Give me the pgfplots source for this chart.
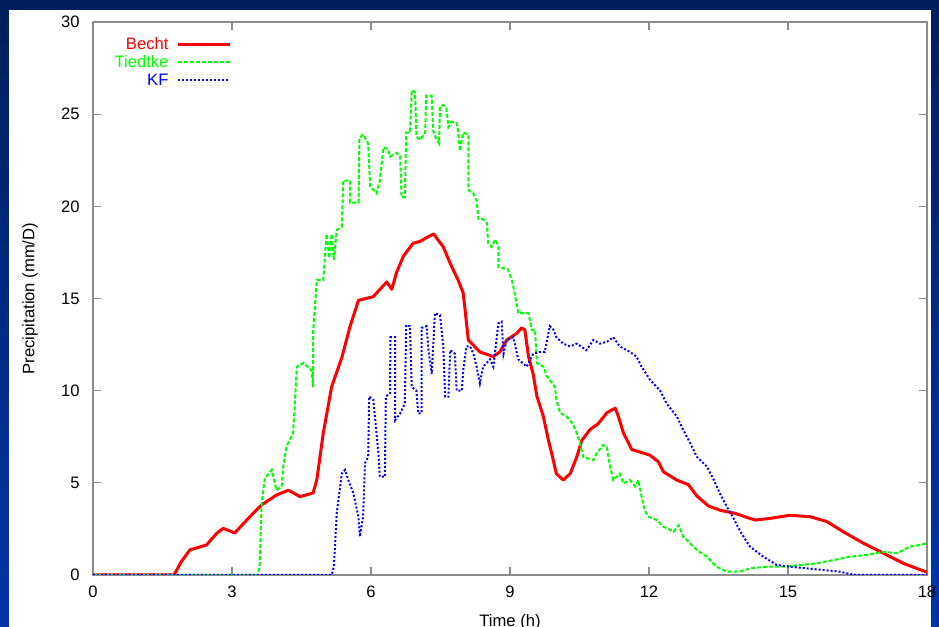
\documentclass[border=0pt]{standalone}
\usepackage{fontspec}
\setmainfont{Liberation Sans}
\usepackage{pgfplots}
\pgfplotsset{compat=1.18}
\definecolor{frametop}{HTML}{001F5C}
\definecolor{framebot}{HTML}{0035AA}
\definecolor{axgray}{HTML}{8C8C8C}
\definecolor{mygreen}{HTML}{00FF00}
\definecolor{myred}{HTML}{FF0000}
\definecolor{myblue}{HTML}{0000FF}

\begin{document}
\begin{tikzpicture}
\useasboundingbox (0,0) rectangle (469.5pt,313.5pt);
\shade[top color=frametop, bottom color=framebot] (0,0) rectangle (469.5pt,313.5pt);
\fill[white] (4.5pt,0) rectangle (465.5pt,308.5pt);
\begin{axis}[
 at={(46.5pt,26pt)}, anchor=south west,
 scale only axis, width=417pt, height=276.5pt,
 xmin=0, xmax=18, ymin=0, ymax=30,
 xtick={0,3,...,18}, ytick={0,5,...,30},
 tick align=inside, major tick length=4pt,
 axis line style={axgray, line width=1pt},
 every tick/.style={axgray, line width=0.6pt},
 tick label style={font=\fontsize{8.3pt}{10pt}\selectfont, inner sep=0pt},
 /pgf/number format/assume math mode=true,
 xticklabel style={yshift=-5.5pt},
 yticklabel style={xshift=-6.5pt},
 xlabel={Time (h)}, ylabel={Precipitation (mm/D)},
 label style={font=\fontsize{8.3pt}{10pt}\selectfont},
 xlabel style={at={(axis description cs:0.5,-0.085)}, anchor=center},
 ylabel style={at={(axis description cs:-0.0755,0.5)}, anchor=center},
 legend style={at={(axis description cs:0.1667,0.977)}, anchor=north east, draw=none, fill=none, inner sep=0pt,
   font=\fontsize{8.3pt}{10pt}\selectfont, nodes={text height=6.2pt, text depth=0.5pt, inner sep=1.1pt}, column sep=3pt},
 legend plot pos=right, legend cell align=right,
 legend image code/.code={\draw[#1] (0pt,0pt) -- (26pt,0pt);},
 no markers,
]
\addplot[myred, line width=1.5pt, line join=round] coordinates {
(0,0)(1.75,0)(1.9,0.7)(2.09,1.36)(2.45,1.63)(2.67,2.26)(2.81,2.53)(3.06,2.28)(3.25,2.8)(3.46,3.35)(3.64,3.8)(3.96,4.34)(4.22,4.6)(4.47,4.25)(4.75,4.45)(4.83,5.15)(4.97,7.7)(5.15,10.2)(5.37,11.8)(5.55,13.5)(5.73,14.9)(6.05,15.1)(6.34,15.9)(6.45,15.5)(6.55,16.4)(6.70,17.3)(6.91,18.0)(7.06,18.1)(7.2,18.3)(7.35,18.5)(7.56,17.8)(7.71,16.9)(7.88,16.0)(7.99,15.3)(8.03,14.4)(8.1,12.75)(8.35,12.1)(8.64,11.85)(8.78,12.1)(8.93,12.75)(9.14,13.1)(9.25,13.4)(9.32,13.3)(9.4,11.85)(9.5,10.9)(9.58,9.7)(9.72,8.6)(9.83,7.3)(9.9,6.6)(10.0,5.5)(10.15,5.15)(10.3,5.5)(10.44,6.4)(10.55,7.3)(10.73,7.9)(10.9,8.2)(11.09,8.8)(11.27,9.05)(11.34,8.6)(11.45,7.7)(11.63,6.8)(11.77,6.7)(12.02,6.5)(12.2,6.15)(12.31,5.6)(12.6,5.15)(12.85,4.9)(13.03,4.3)(13.28,3.75)(13.55,3.5)(13.85,3.35)(14.14,3.1)(14.3,2.98)(14.61,3.07)(15.04,3.24)(15.48,3.16)(15.84,2.9)(16.19,2.35)(16.63,1.72)(17.06,1.18)(17.49,0.63)(18,0.15)
};
\addlegendentry{\textcolor{myred}{Becht}}
\addplot[mygreen, line width=1pt, dash pattern=on 2pt off 1pt] coordinates {
(0,0)(3.56,0)(3.6,0.65)(3.64,3.9)(3.71,5.25)(3.86,5.7)(3.96,4.6)(4.07,4.8)(4.11,5.97)(4.18,7.0)(4.32,7.7)(4.4,11.3)(4.54,11.5)(4.72,11.1)(4.75,10.2)(4.75,13.1)(4.83,16.0)(4.97,16.0)(5.04,18.5)(5.1,17.2)(5.15,18.5)(5.2,17.1)(5.26,18.7)(5.37,18.9)(5.4,21.4)(5.55,21.4)(5.55,20.2)(5.73,20.2)(5.75,23.7)(5.83,23.9)(5.94,23.4)(5.98,21.1)(6.12,20.7)(6.19,21.4)(6.27,23.2)(6.37,23.1)(6.41,22.7)(6.55,22.9)(6.63,22.7)(6.66,20.5)(6.73,20.5)(6.76,24.0)(6.84,24.0)(6.88,26.3)(6.95,26.2)(6.98,23.8)(7.06,23.6)(7.17,24.0)(7.19,26.0)(7.31,26.0)(7.34,24.1)(7.42,23.6)(7.47,23.4)(7.49,25.4)(7.56,25.5)(7.63,25.3)(7.67,24.3)(7.74,24.6)(7.85,24.5)(7.88,24.1)(7.92,23.0)(7.99,24.0)(8.1,23.9)(8.1,20.9)(8.21,20.7)(8.28,20.3)(8.32,19.3)(8.42,19.3)(8.5,19.1)(8.53,18.0)(8.6,17.8)(8.68,18.2)(8.75,17.8)(8.75,16.7)(8.95,16.6)(9.04,16.0)(9.1,15.3)(9.18,14.2)(9.4,14.2)(9.47,13.3)(9.54,13.3)(9.58,11.5)(9.72,11.3)(9.79,10.8)(9.97,10.2)(10.0,9.5)(10.08,8.8)(10.22,8.6)(10.36,8.2)(10.44,7.7)(10.51,7.15)(10.58,6.4)(10.8,6.24)(10.87,6.6)(11.01,7.05)(11.09,6.96)(11.16,5.88)(11.23,5.15)(11.37,5.5)(11.45,4.97)(11.59,5.15)(11.7,4.8)(11.77,5.15)(11.84,4.25)(11.91,3.5)(11.99,3.16)(12.17,2.98)(12.31,2.62)(12.53,2.35)(12.64,2.7)(12.74,2.08)(13.03,1.36)(13.25,0.99)(13.46,0.45)(13.68,0.18)(13.96,0.18)(14.18,0.36)(14.54,0.45)(14.9,0.45)(15.26,0.54)(15.62,0.63)(15.98,0.81)(16.34,0.99)(16.7,1.09)(17.06,1.26)(17.35,1.18)(17.63,1.54)(17.85,1.63)(18,1.72)
};
\addlegendentry{\textcolor{mygreen}{Tiedtke}}
\addplot[myblue, line width=1pt, dash pattern=on 1pt off 1pt] coordinates {
(0,0)(5.15,0)(5.2,0.45)(5.26,3.35)(5.37,5.5)(5.44,5.7)(5.51,5.15)(5.62,4.43)(5.73,3.16)(5.76,2.08)(5.83,3.16)(5.87,6.06)(5.94,6.42)(5.96,9.68)(6.05,9.5)(6.16,6.6)(6.19,5.33)(6.3,5.33)(6.32,9.68)(6.41,9.86)(6.42,12.9)(6.52,12.9)(6.52,8.4)(6.63,8.77)(6.73,9.3)(6.76,13.56)(6.84,13.5)(6.88,10.2)(6.98,10.0)(7.02,8.77)(7.09,8.77)(7.09,13.4)(7.2,13.5)(7.24,12.2)(7.31,10.9)(7.38,14.2)(7.49,14.1)(7.56,12.4)(7.6,9.68)(7.67,9.68)(7.71,12.2)(7.81,12.0)(7.85,10.0)(7.96,10.0)(7.99,11.1)(8.06,12.4)(8.14,12.4)(8.21,12.0)(8.28,11.3)(8.35,10.4)(8.42,11.3)(8.57,11.7)(8.64,11.3)(8.75,13.66)(8.82,13.74)(8.86,12.0)(8.93,12.75)(9.07,12.9)(9.18,11.7)(9.36,11.3)(9.5,12.0)(9.65,12.1)(9.75,12.1)(9.86,13.5)(9.94,13.3)(10.0,12.9)(10.15,12.55)(10.3,12.4)(10.44,12.55)(10.65,12.2)(10.8,12.75)(10.94,12.55)(11.09,12.65)(11.23,12.9)(11.37,12.4)(11.59,12.1)(11.73,11.85)(11.84,11.3)(12.02,10.6)(12.24,10.0)(12.38,9.3)(12.6,8.6)(12.74,7.87)(12.89,7.15)(13.03,6.42)(13.25,5.88)(13.39,5.2)(13.53,4.43)(13.68,3.7)(13.82,3.1)(13.96,2.4)(14.18,1.54)(14.47,0.99)(14.76,0.54)(15.04,0.45)(15.4,0.36)(15.76,0.27)(16.12,0.18)(16.34,0.05)(16.5,0)(18,0)
};
\addlegendentry{\textcolor{myblue}{KF}}
\end{axis}
\end{tikzpicture}
\end{document}
